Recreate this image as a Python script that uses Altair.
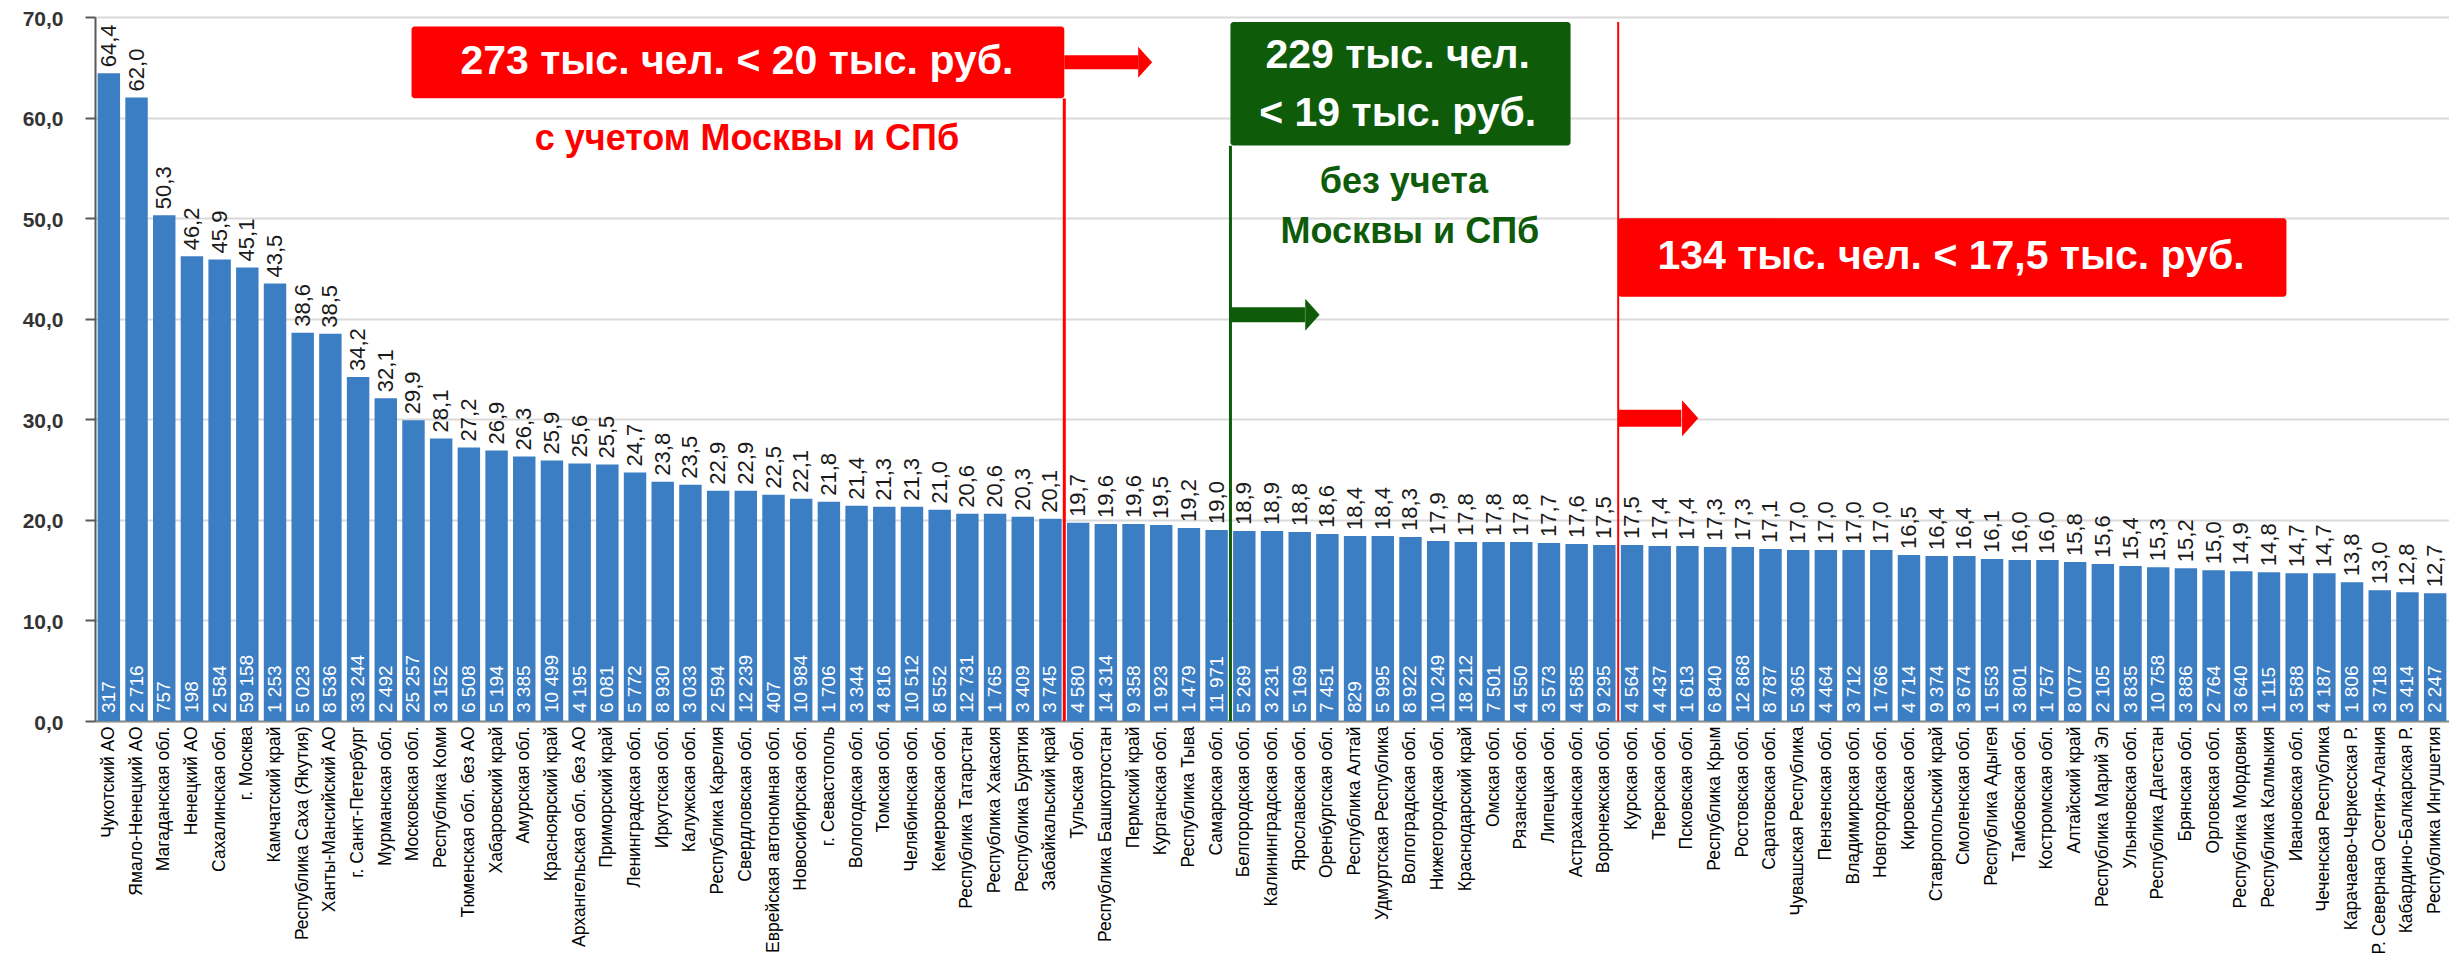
import altair as alt
import pandas as pd

regions = [
    "Чукотский АО", "Ямало-Ненецкий АО", "Магаданская обл.", "Ненецкий АО",
    "Сахалинская обл.", "г. Москва", "Камчатский край", "Республика Саха (Якутия)",
    "Ханты-Мансийский АО", "г. Санкт-Петербург", "Мурманская обл.", "Московская обл.",
    "Республика Коми", "Тюменская обл. без АО", "Хабаровский край", "Амурская обл.",
    "Красноярский край", "Архангельская обл. без АО", "Приморский край", "Ленинградская обл.",
    "Иркутская обл.", "Калужская обл.", "Республика Карелия", "Свердловская обл.",
    "Еврейская автономная обл.", "Новосибирская обл.", "г. Севастополь", "Вологодская обл.",
    "Томская обл.", "Челябинская обл.", "Кемеровская обл.", "Республика Татарстан",
    "Республика Хакасия", "Республика Бурятия", "Забайкальский край", "Тульская обл.",
    "Республика Башкортостан", "Пермский край", "Курганская обл.", "Республика Тыва",
    "Самарская обл.", "Белгородская обл.", "Калининградская обл.", "Ярославская обл.",
    "Оренбургская обл.", "Республика Алтай", "Удмуртская Республика", "Волгоградская обл.",
    "Нижегородская обл.", "Краснодарский край", "Омская обл.", "Рязанская обл.",
    "Липецкая обл.", "Астраханская обл.", "Воронежская обл.", "Курская обл.",
    "Тверская обл.", "Псковская обл.", "Республика Крым", "Ростовская обл.",
    "Саратовская обл.", "Чувашская Республика", "Пензенская обл.", "Владимирская обл.",
    "Новгородская обл.", "Кировская обл.", "Ставропольский край", "Смоленская обл.",
    "Республика Адыгея", "Тамбовская обл.", "Костромская обл.", "Алтайский край",
    "Республика Марий Эл", "Ульяновская обл.", "Республика Дагестан", "Брянская обл.",
    "Орловская обл.", "Республика Мордовия", "Республика Калмыкия", "Ивановская обл.",
    "Чеченская Республика", "Карачаево-Черкесская Р.", "Р. Северная Осетия-Алания",
    "Кабардино-Балкарская Р.", "Республика Ингушетия",
]

avg_wage = [
    64.4, 62.0, 50.3, 46.2, 45.9, 45.1, 43.5, 38.6, 38.5, 34.2,
    32.1, 29.9, 28.1, 27.2, 26.9, 26.3, 25.9, 25.6, 25.5, 24.7,
    23.8, 23.5, 22.9, 22.9, 22.5, 22.1, 21.8, 21.4, 21.3, 21.3,
    21.0, 20.6, 20.6, 20.3, 20.1, 19.7, 19.6, 19.6, 19.5, 19.2,
    19.0, 18.9, 18.9, 18.8, 18.6, 18.4, 18.4, 18.3, 17.9, 17.8,
    17.8, 17.8, 17.7, 17.6, 17.5, 17.5, 17.4, 17.4, 17.3, 17.3,
    17.1, 17.0, 17.0, 17.0, 17.0, 16.5, 16.4, 16.4, 16.1, 16.0,
    16.0, 15.8, 15.6, 15.4, 15.3, 15.2, 15.0, 14.9, 14.8, 14.7,
    14.7, 13.8, 13.0, 12.8, 12.7,
]

low_wage_count = [
    317, 2716, 757, 198, 2584, 59158, 1253, 5023, 8536, 33244,
    2492, 25257, 3152, 6508, 5194, 3385, 10499, 4195, 6081, 5772,
    8930, 3033, 2594, 12239, 407, 10984, 1706, 3344, 4816, 10512,
    8552, 12731, 1765, 3409, 3745, 4580, 14314, 9358, 1923, 1479,
    11971, 5269, 3231, 5169, 7451, 829, 5995, 8922, 10249, 18212,
    7501, 4550, 3573, 4585, 9295, 4564, 4437, 1613, 6840, 12868,
    8787, 5365, 4464, 3712, 1766, 4714, 9374, 3674, 1553, 3801,
    1757, 8077, 2105, 3835, 10758, 3886, 2764, 3640, 1115, 3588,
    4187, 1806, 3718, 3414, 2247,
]

y_ticks = [0, 10, 20, 30, 40, 50, 60, 70]

df = pd.DataFrame({"region": regions, "wage": avg_wage, "count": low_wage_count})
df["wage_label"] = [f"{v:.1f}".replace(".", ",") for v in avg_wage]
df["count_label"] = [f"{n:,}".replace(",", " ") for n in low_wage_count]

W, H = 2354, 704
FONT = "Liberation Sans"
RED = "#ff0000"
GREEN = "#0e5b0a"
N = len(regions)

yscale = alt.Scale(domain=[0, 70], nice=False, zero=True)
xq = alt.Scale(domain=[0, N], nice=False, zero=False)
band_scale = alt.Scale(domain=regions, paddingInner=0, paddingOuter=0)

x_band = alt.X(
    "region:N", sort=regions, scale=band_scale,
    axis=alt.Axis(title=None, labelAngle=270, labelAlign="right", labelBaseline="middle",
                  labelFont=FONT, labelFontSize=17.5, labelColor="#000000",
                  labelPadding=5, ticks=False, domainColor="#8c8c8c", domainWidth=2,
                  labelLimit=400, labelOverlap=False, grid=False),
)
x_band_plain = alt.X("region:N", sort=regions, scale=band_scale, axis=None)

y_axis = alt.Axis(
    title=None, orient="left", values=y_ticks, grid=True,
    labelExpr="replace(format(datum.value, '.1f'), '.', ',')",
    labelFont=FONT, labelFontSize=21, labelFontWeight="bold", labelColor="#333333",
    labelPadding=22, labelOffset=2, tickSize=10, tickWidth=2, tickColor="#595959",
    domainColor="#595959", domainWidth=2, gridColor="#d9d9d9", gridWidth=2,
)

bars = alt.Chart(df).mark_bar(width=alt.RelativeBandSize(0.81), color="#3b7ec4").encode(
    x=x_band, y=alt.Y("wage:Q", scale=yscale, axis=y_axis)
)
vals = alt.Chart(df).mark_text(
    angle=270, align="left", baseline="middle", dx=6, font=FONT, fontSize=22, color="#1a1a1a"
).encode(x=x_band_plain, y=alt.Y("wage:Q", scale=yscale, axis=None), text="wage_label:N")
counts = alt.Chart(df).mark_text(
    angle=270, align="left", baseline="middle", dx=8, font=FONT, fontSize=19, color="#ffffff"
).encode(x=x_band_plain, y=alt.Y("zero:Q", scale=yscale, axis=None), text="count_label:N").transform_calculate(zero="0")


def qx(f="x"):
    return alt.X(f + ":Q", scale=xq, axis=None)


def qy(f="y"):
    return alt.Y(f + ":Q", scale=yscale, axis=None)


def vline(pos, top, color, width):
    d = pd.DataFrame({"x": [pos], "y": [0.0], "y2": [top]})
    return alt.Chart(d).mark_rule(color=color, strokeWidth=width).encode(x=qx(), y=qy(), y2="y2:Q")


def box(x0, x1, y0, y1, color):
    d = pd.DataFrame({"x": [x0], "x2": [x1], "y": [y0], "y2": [y1]})
    return alt.Chart(d).mark_rect(color=color, cornerRadius=3).encode(
        x=qx(), x2="x2:Q", y=qy(), y2="y2:Q")


def label(txt, xc, yc, color, size):
    d = pd.DataFrame({"x": [xc], "y": [yc], "t": [txt]})
    return alt.Chart(d).mark_text(
        font=FONT, fontSize=size, fontWeight="bold", color=color, align="center", baseline="middle"
    ).encode(x=qx(), y=qy(), text="t:N")


def arrow(x0, x1, xh, yc, color, thick, head_h):
    d = pd.DataFrame({"x": [x0], "x2": [x1], "y": [yc]})
    shaft = alt.Chart(d).mark_rule(color=color, strokeWidth=thick, strokeCap="butt").encode(
        x=qx(), x2="x2:Q", y=qy())
    dh = pd.DataFrame({"x": [xh], "y": [yc]})
    head = alt.Chart(dh).mark_point(
        shape="M-0.45,-1L0.45,0L-0.45,1Z", size=head_h ** 2, filled=True, color=color,
        opacity=1, strokeWidth=0
    ).encode(x=qx(), y=qy())
    return [shaft, head]


ann_layers = [
    vline(35.0, 61.9, RED, 3),
    vline(41.0, 57.2, GREEN, 3),
    vline(55.0, 69.5, RED, 2),
    box(11.43, 35.0, 61.92, 69.06, RED),
    box(41.0, 53.28, 57.23, 69.5, GREEN),
    box(55.0, 79.13, 42.18, 50.0, RED),
    label("273 тыс. чел. < 20 тыс. руб.", 23.18, 65.5, "#ffffff", 41),
    label("с учетом Москвы и СПб", 23.54, 57.9, RED, 36),
    label("229 тыс. чел.", 47.04, 66.1, "#ffffff", 41),
    label("< 19 тыс. руб.", 47.04, 60.4, "#ffffff", 41),
    label("без учета", 47.26, 53.6, GREEN, 36),
    label("Москвы и СПб", 47.48, 48.6, GREEN, 36),
    label("134 тыс. чел. < 17,5 тыс. руб.", 67.02, 46.1, "#ffffff", 41),
]
ann_layers += arrow(35.0, 37.67, 37.92, 65.5, RED, 14, 31)
ann_layers += arrow(41.0, 43.69, 43.96, 40.4, GREEN, 15, 32)
ann_layers += arrow(55.0, 57.28, 57.6, 30.1, RED, 17, 36)

chart = alt.layer(bars, vals, counts, *ann_layers).resolve_scale(x="independent").resolve_axis(
    x="independent", y="independent"
).properties(
    width=W, height=H,
    padding={"left": 87, "top": 9, "right": 0, "bottom": 240},
    autosize=alt.AutoSizeParams(type="none"),
    background="#ffffff",
).configure_view(stroke=None)

chart.save("out.html", embed_options={"renderer": "svg", "actions": False})
